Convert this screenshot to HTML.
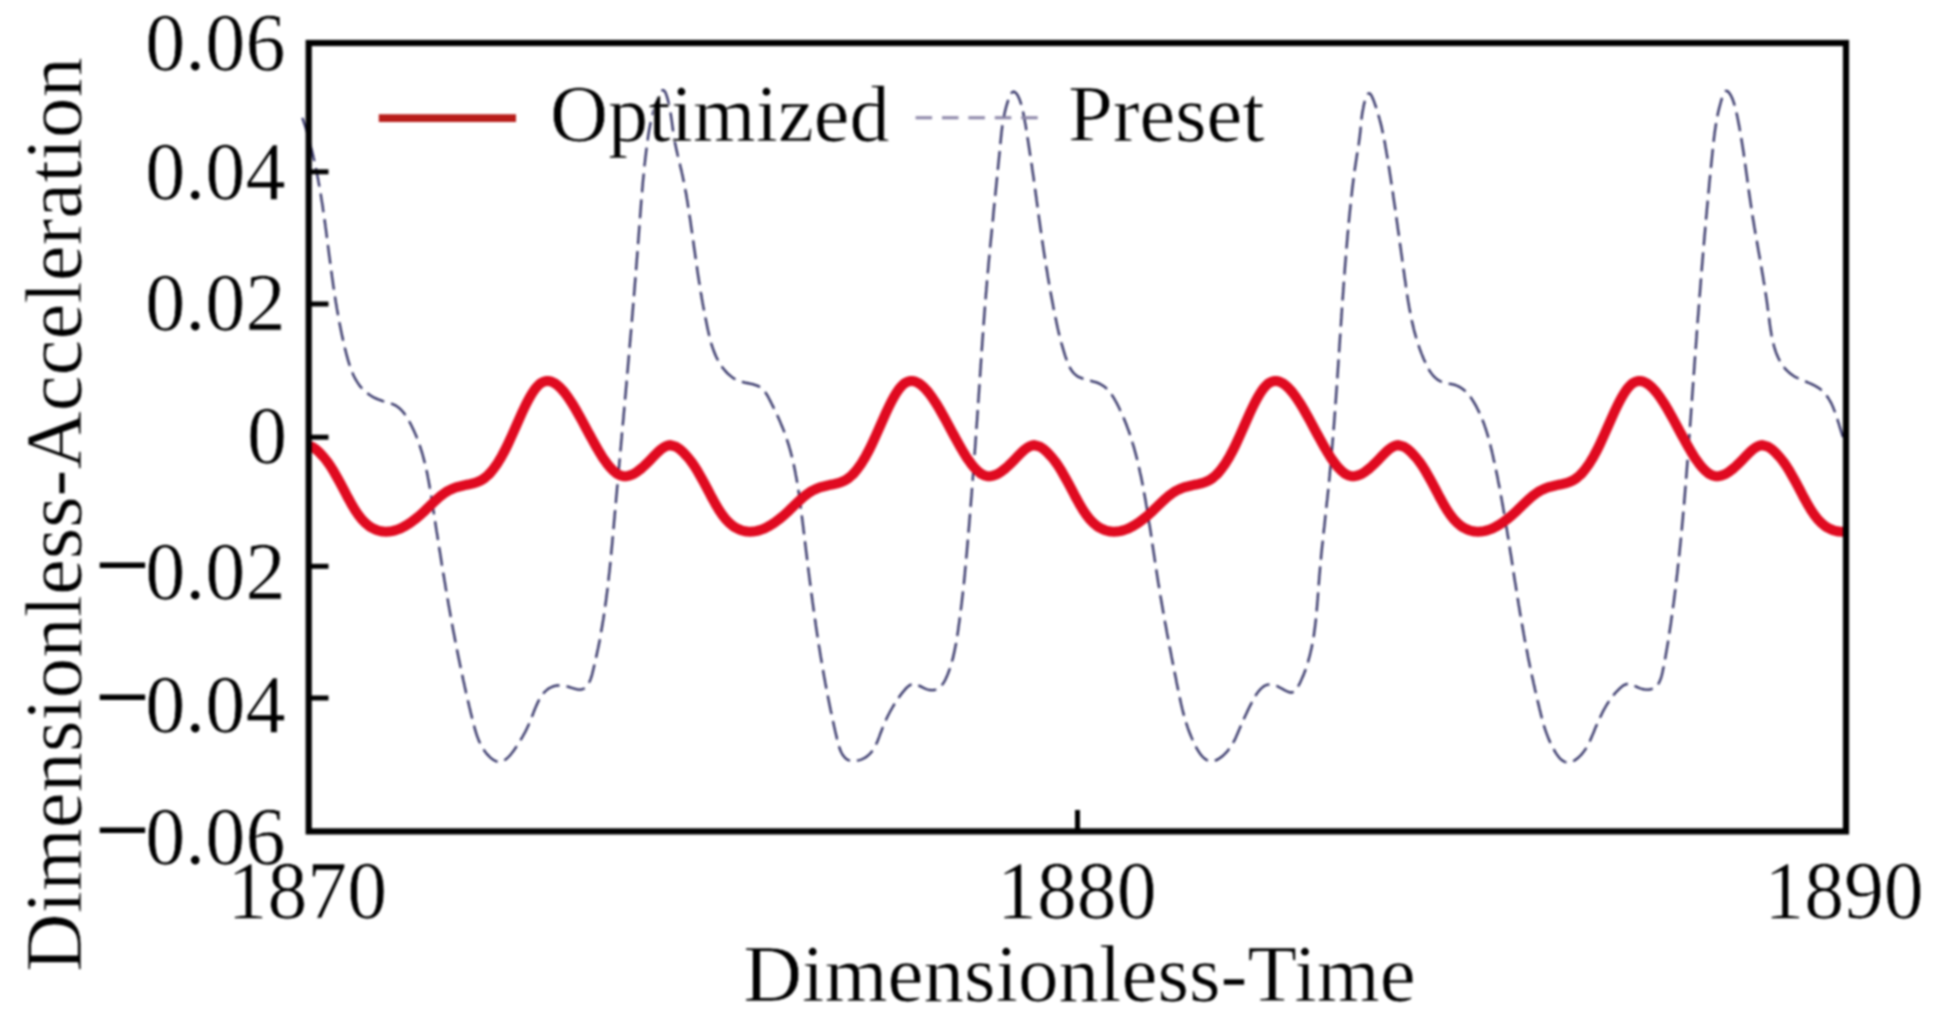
<!DOCTYPE html>
<html lang="en">
<head>
<meta charset="utf-8">
<title>Dimensionless-Acceleration vs Dimensionless-Time</title>
<style>
html,body{margin:0;padding:0;background:#fff;}
body{width:1943px;height:1029px;overflow:hidden;}
svg{display:block;filter:blur(1.0px);}
text{font-family:"Liberation Serif","Times New Roman",serif;fill:#000;stroke:#fff;stroke-width:0.7px;}
</style>
</head>
<body>
<svg width="1943" height="1029" viewBox="0 0 1943 1029">
<rect x="0" y="0" width="1943" height="1029" fill="#ffffff"/>
<!-- preset curve (dashed) -->
<path d="M302.3,117.8 L303.0,119.7 L303.6,121.6 L304.2,123.5 L304.9,125.4 L305.5,127.4 L306.1,129.3 L306.6,131.2 L307.2,133.1 L307.8,135.1 L308.3,137.0 L308.9,138.9 L309.4,140.9 L309.9,142.8 L310.4,144.7 L310.9,146.7 L311.4,148.6 L311.9,150.5 L312.4,152.5 L312.8,154.4 L313.3,156.4 L313.7,158.3 L314.2,160.3 L314.6,162.2 L315.0,164.1 L315.5,166.1 L315.9,168.0 L316.3,170.0 L316.7,171.9 L317.1,173.9 L317.4,175.8 L317.8,177.8 L318.2,179.8 L318.5,181.7 L318.9,183.7 L319.2,185.6 L319.6,187.6 L319.9,189.5 L320.3,191.5 L320.6,193.5 L320.9,195.4 L321.2,197.4 L321.5,199.4 L321.8,201.3 L322.2,203.3 L322.5,205.3 L322.8,207.2 L323.0,209.2 L323.3,211.2 L323.6,213.1 L323.9,215.1 L324.2,217.1 L324.5,219.0 L324.7,221.0 L325.0,223.0 L325.3,224.9 L325.5,226.9 L325.8,228.9 L326.1,230.9 L326.3,232.8 L326.6,234.8 L326.8,236.8 L327.1,238.8 L327.4,240.8 L327.6,242.7 L327.9,244.7 L328.1,246.7 L328.4,248.7 L328.6,250.6 L328.9,252.6 L329.1,254.6 L329.4,256.6 L329.7,258.6 L329.9,260.5 L330.2,262.5 L330.4,264.5 L330.7,266.5 L331.0,268.5 L331.2,270.5 L331.5,272.4 L331.8,274.4 L332.0,276.4 L332.3,278.4 L332.6,280.4 L332.9,282.4 L333.1,284.3 L333.4,286.3 L333.7,288.3 L334.0,290.3 L334.3,292.3 L334.6,294.3 L334.9,296.2 L335.2,298.2 L335.5,300.2 L335.8,302.2 L336.2,304.2 L336.5,306.2 L336.8,308.2 L337.2,310.1 L337.5,312.1 L337.9,314.1 L338.2,316.1 L338.6,318.1 L338.9,320.1 L339.3,322.0 L339.7,324.0 L340.1,326.0 L340.5,328.0 L340.9,330.0 L341.3,332.0 L341.7,333.9 L342.1,335.9 L342.6,337.9 L343.0,339.9 L343.4,341.9 L343.9,343.8 L344.4,345.8 L344.8,347.8 L345.3,349.8 L345.8,351.8 L346.3,353.8 L346.8,355.7 L347.4,357.7 L347.9,359.7 L348.5,361.6 L349.1,363.5 L349.7,365.5 L350.3,367.4 L351.0,369.2 L351.7,371.1 L352.5,372.9 L353.2,374.7 L354.1,376.5 L355.0,378.2 L355.9,379.9 L356.9,381.5 L357.9,383.1 L359.0,384.7 L360.1,386.2 L361.3,387.6 L362.6,389.0 L363.9,390.4 L365.4,391.7 L366.8,392.9 L368.4,394.0 L370.0,395.1 L371.7,396.2 L373.4,397.2 L375.2,398.1 L377.0,398.9 L378.9,399.7 L380.9,400.4 L382.9,401.1 L384.9,401.7 L387.0,402.3 L389.0,402.9 L391.0,403.5 L392.9,404.3 L394.8,405.1 L396.5,406.1 L398.1,407.2 L399.6,408.4 L401.1,409.8 L402.4,411.2 L403.7,412.8 L404.9,414.4 L406.0,416.0 L407.1,417.7 L408.1,419.5 L409.1,421.2 L410.1,423.0 L411.0,424.8 L411.9,426.6 L412.8,428.4 L413.7,430.2 L414.5,432.1 L415.3,433.9 L416.1,435.7 L416.8,437.6 L417.6,439.4 L418.3,441.3 L418.9,443.2 L419.6,445.0 L420.2,446.9 L420.8,448.8 L421.4,450.7 L422.0,452.6 L422.6,454.5 L423.1,456.5 L423.6,458.4 L424.1,460.3 L424.6,462.2 L425.1,464.2 L425.6,466.1 L426.0,468.1 L426.4,470.0 L426.9,472.0 L427.3,473.9 L427.7,475.9 L428.0,477.9 L428.4,479.8 L428.8,481.8 L429.1,483.8 L429.5,485.8 L429.8,487.7 L430.2,489.7 L430.5,491.7 L430.8,493.7 L431.1,495.7 L431.4,497.7 L431.8,499.6 L432.1,501.6 L432.4,503.6 L432.7,505.6 L433.0,507.6 L433.3,509.6 L433.6,511.6 L433.9,513.5 L434.2,515.5 L434.5,517.5 L434.8,519.5 L435.1,521.5 L435.4,523.4 L435.7,525.4 L436.0,527.4 L436.3,529.4 L436.6,531.4 L437.0,533.3 L437.3,535.3 L437.6,537.3 L437.9,539.3 L438.2,541.2 L438.5,543.2 L438.8,545.2 L439.1,547.2 L439.4,549.1 L439.7,551.1 L440.1,553.1 L440.4,555.1 L440.7,557.0 L441.0,559.0 L441.3,561.0 L441.6,562.9 L441.9,564.9 L442.3,566.9 L442.6,568.9 L442.9,570.8 L443.2,572.8 L443.5,574.8 L443.9,576.7 L444.2,578.7 L444.5,580.7 L444.9,582.6 L445.2,584.6 L445.5,586.6 L445.8,588.5 L446.2,590.5 L446.5,592.5 L446.8,594.4 L447.2,596.4 L447.5,598.4 L447.9,600.3 L448.2,602.3 L448.5,604.2 L448.9,606.2 L449.2,608.2 L449.6,610.1 L449.9,612.1 L450.3,614.1 L450.6,616.0 L451.0,618.0 L451.3,619.9 L451.7,621.9 L452.1,623.9 L452.4,625.8 L452.8,627.8 L453.1,629.8 L453.5,631.7 L453.9,633.7 L454.3,635.6 L454.6,637.6 L455.0,639.6 L455.4,641.5 L455.8,643.5 L456.1,645.4 L456.5,647.4 L456.9,649.4 L457.3,651.3 L457.7,653.3 L458.1,655.2 L458.5,657.2 L458.9,659.2 L459.3,661.1 L459.7,663.1 L460.1,665.0 L460.5,667.0 L460.9,669.0 L461.3,670.9 L461.7,672.9 L462.2,674.8 L462.6,676.8 L463.0,678.8 L463.4,680.7 L463.9,682.7 L464.3,684.6 L464.7,686.6 L465.2,688.6 L465.6,690.5 L466.0,692.5 L466.5,694.4 L466.9,696.4 L467.4,698.4 L467.8,700.3 L468.3,702.3 L468.8,704.2 L469.2,706.2 L469.7,708.2 L470.2,710.1 L470.6,712.1 L471.1,714.0 L471.6,716.0 L472.1,718.0 L472.6,719.9 L473.1,721.9 L473.6,723.9 L474.1,725.8 L474.6,727.8 L475.1,729.7 L475.7,731.6 L476.3,733.6 L476.9,735.5 L477.6,737.3 L478.3,739.2 L479.0,741.0 L479.9,742.8 L480.7,744.6 L481.6,746.3 L482.6,748.0 L483.7,749.7 L484.8,751.3 L486.0,752.9 L487.3,754.4 L488.7,755.9 L490.1,757.3 L491.7,758.6 L493.3,759.8 L495.0,760.8 L496.6,761.5 L498.3,761.8 L500.0,761.9 L501.6,761.5 L503.2,760.9 L504.8,760.0 L506.4,758.9 L507.9,757.5 L509.4,756.0 L510.8,754.4 L512.2,752.6 L513.6,750.8 L514.9,748.9 L516.2,747.0 L517.4,745.1 L518.6,743.3 L519.7,741.6 L520.7,739.8 L521.7,738.1 L522.7,736.5 L523.6,734.8 L524.5,733.2 L525.4,731.6 L526.2,729.9 L527.0,728.3 L527.8,726.6 L528.6,724.9 L529.3,723.1 L530.1,721.3 L530.8,719.5 L531.6,717.6 L532.3,715.7 L533.1,713.7 L533.8,711.7 L534.6,709.7 L535.5,707.6 L536.3,705.7 L537.2,703.7 L538.1,701.8 L539.1,699.9 L540.1,698.1 L541.2,696.4 L542.3,694.7 L543.5,693.2 L544.8,691.8 L546.2,690.5 L547.6,689.3 L549.1,688.3 L550.7,687.5 L552.4,686.7 L554.1,686.2 L555.9,685.7 L557.8,685.5 L559.7,685.4 L561.7,685.4 L563.7,685.7 L565.8,686.1 L567.9,686.6 L570.1,687.3 L572.2,688.0 L574.3,688.7 L576.3,689.2 L578.2,689.6 L580.0,689.7 L581.6,689.5 L583.0,689.0 L584.3,688.4 L585.5,687.5 L586.6,686.4 L587.6,685.1 L588.5,683.7 L589.3,682.1 L590.1,680.4 L590.8,678.6 L591.4,676.7 L592.0,674.8 L592.5,672.8 L593.0,670.7 L593.5,668.7 L594.0,666.6 L594.5,664.6 L595.0,662.5 L595.4,660.5 L595.9,658.4 L596.3,656.4 L596.8,654.4 L597.2,652.3 L597.6,650.3 L598.1,648.3 L598.5,646.2 L598.9,644.2 L599.3,642.2 L599.7,640.2 L600.0,638.1 L600.4,636.1 L600.8,634.1 L601.1,632.1 L601.5,630.1 L601.8,628.1 L602.2,626.1 L602.5,624.0 L602.8,622.0 L603.2,620.0 L603.5,618.0 L603.8,616.0 L604.1,614.0 L604.4,612.0 L604.7,610.0 L605.0,608.0 L605.2,606.0 L605.5,604.0 L605.8,602.0 L606.1,600.0 L606.3,598.0 L606.6,596.0 L606.8,594.0 L607.1,592.1 L607.3,590.1 L607.6,588.1 L607.8,586.1 L608.0,584.1 L608.3,582.1 L608.5,580.1 L608.7,578.1 L608.9,576.2 L609.1,574.2 L609.4,572.2 L609.6,570.2 L609.8,568.2 L610.0,566.2 L610.2,564.3 L610.4,562.3 L610.6,560.3 L610.8,558.3 L611.0,556.3 L611.2,554.4 L611.3,552.4 L611.5,550.4 L611.7,548.4 L611.9,546.5 L612.1,544.5 L612.3,542.5 L612.4,540.5 L612.6,538.5 L612.8,536.6 L613.0,534.6 L613.2,532.6 L613.3,530.6 L613.5,528.7 L613.7,526.7 L613.9,524.7 L614.0,522.7 L614.2,520.7 L614.4,518.8 L614.6,516.8 L614.7,514.8 L614.9,512.8 L615.1,510.8 L615.3,508.9 L615.4,506.9 L615.6,504.9 L615.8,502.9 L616.0,500.9 L616.1,499.0 L616.3,497.0 L616.5,495.0 L616.7,493.0 L616.9,491.0 L617.0,489.0 L617.2,487.1 L617.4,485.1 L617.6,483.1 L617.7,481.1 L617.9,479.1 L618.1,477.1 L618.3,475.2 L618.5,473.2 L618.6,471.2 L618.8,469.2 L619.0,467.2 L619.2,465.2 L619.3,463.2 L619.5,461.3 L619.7,459.3 L619.9,457.3 L620.1,455.3 L620.2,453.3 L620.4,451.3 L620.6,449.3 L620.8,447.3 L621.0,445.4 L621.1,443.4 L621.3,441.4 L621.5,439.4 L621.7,437.4 L621.8,435.4 L622.0,433.4 L622.2,431.4 L622.4,429.4 L622.6,427.5 L622.7,425.5 L622.9,423.5 L623.1,421.5 L623.3,419.5 L623.5,417.5 L623.6,415.5 L623.8,413.5 L624.0,411.5 L624.2,409.5 L624.3,407.5 L624.5,405.6 L624.7,403.6 L624.9,401.6 L625.0,399.6 L625.2,397.6 L625.4,395.6 L625.6,393.6 L625.8,391.6 L625.9,389.6 L626.1,387.6 L626.3,385.6 L626.5,383.6 L626.6,381.6 L626.8,379.6 L627.0,377.7 L627.2,375.7 L627.3,373.7 L627.5,371.7 L627.7,369.7 L627.9,367.7 L628.0,365.7 L628.2,363.7 L628.4,361.7 L628.6,359.7 L628.7,357.7 L628.9,355.7 L629.1,353.7 L629.2,351.7 L629.4,349.7 L629.6,347.7 L629.8,345.7 L629.9,343.7 L630.1,341.7 L630.3,339.7 L630.4,337.7 L630.6,335.7 L630.8,333.7 L631.0,331.7 L631.1,329.8 L631.3,327.8 L631.5,325.8 L631.6,323.8 L631.8,321.8 L632.0,319.8 L632.1,317.8 L632.3,315.8 L632.5,313.8 L632.6,311.8 L632.8,309.8 L633.0,307.8 L633.1,305.8 L633.3,303.8 L633.5,301.8 L633.6,299.8 L633.8,297.8 L634.0,295.8 L634.1,293.8 L634.3,291.8 L634.5,289.8 L634.6,287.8 L634.8,285.8 L634.9,283.8 L635.1,281.8 L635.3,279.8 L635.4,277.8 L635.6,275.8 L635.7,273.8 L635.9,271.8 L636.1,269.8 L636.2,267.8 L636.4,265.8 L636.5,263.8 L636.7,261.8 L636.8,259.8 L637.0,257.8 L637.2,255.8 L637.3,253.8 L637.5,251.8 L637.6,249.8 L637.8,247.8 L637.9,245.8 L638.1,243.8 L638.2,241.8 L638.4,239.8 L638.5,237.8 L638.7,235.8 L638.8,233.8 L639.0,231.8 L639.1,229.8 L639.3,227.8 L639.4,225.8 L639.6,223.8 L639.7,221.8 L639.9,219.8 L640.0,217.8 L640.2,215.8 L640.3,213.8 L640.5,211.8 L640.6,209.8 L640.8,207.8 L640.9,205.8 L641.1,203.8 L641.2,201.9 L641.4,199.9 L641.6,197.9 L641.7,195.9 L641.9,193.9 L642.1,191.9 L642.2,189.9 L642.4,188.0 L642.6,186.0 L642.7,184.0 L642.9,182.0 L643.1,180.0 L643.3,178.1 L643.5,176.1 L643.7,174.1 L643.8,172.2 L644.0,170.2 L644.2,168.3 L644.4,166.3 L644.6,164.3 L644.9,162.4 L645.1,160.4 L645.3,158.5 L645.5,156.6 L645.8,154.6 L646.0,152.7 L646.2,150.8 L646.5,148.8 L646.7,146.9 L647.0,145.0 L647.2,143.1 L647.5,141.1 L647.8,139.2 L648.0,137.3 L648.3,135.4 L648.6,133.5 L648.9,131.6 L649.2,129.7 L649.6,127.7 L650.0,125.7 L650.4,123.7 L650.8,121.7 L651.3,119.6 L651.8,117.5 L652.3,115.3 L652.9,113.0 L653.5,110.7 L654.2,108.4 L654.9,105.9 L655.7,103.5 L656.6,101.0 L657.4,98.6 L658.3,96.4 L659.2,94.4 L660.1,92.7 L661.1,91.4 L662.0,90.5 L662.8,90.1 L663.7,90.3 L664.5,91.0 L665.3,92.2 L666.0,93.9 L666.7,95.8 L667.4,98.1 L668.0,100.4 L668.6,102.9 L669.1,105.4 L669.6,107.7 L670.0,110.1 L670.4,112.3 L670.8,114.5 L671.1,116.6 L671.4,118.6 L671.7,120.7 L672.0,122.6 L672.2,124.6 L672.5,126.5 L672.7,128.3 L673.0,130.2 L673.2,132.1 L673.5,133.9 L673.8,135.8 L674.1,137.6 L674.4,139.5 L674.7,141.4 L675.1,143.3 L675.5,145.2 L675.9,147.1 L676.3,149.0 L676.7,150.9 L677.2,152.9 L677.6,154.8 L678.1,156.8 L678.6,158.7 L679.0,160.7 L679.5,162.7 L680.0,164.6 L680.4,166.6 L680.9,168.6 L681.4,170.6 L681.8,172.6 L682.3,174.5 L682.7,176.5 L683.1,178.5 L683.5,180.5 L683.9,182.4 L684.3,184.4 L684.7,186.4 L685.1,188.4 L685.4,190.3 L685.8,192.3 L686.2,194.3 L686.5,196.2 L686.8,198.2 L687.2,200.2 L687.5,202.1 L687.8,204.1 L688.1,206.1 L688.4,208.0 L688.7,210.0 L689.0,212.0 L689.3,213.9 L689.6,215.9 L689.9,217.9 L690.2,219.9 L690.5,221.8 L690.8,223.8 L691.0,225.8 L691.3,227.7 L691.6,229.7 L691.9,231.7 L692.2,233.7 L692.4,235.7 L692.7,237.6 L693.0,239.6 L693.3,241.6 L693.6,243.6 L693.8,245.5 L694.1,247.5 L694.4,249.5 L694.7,251.5 L695.0,253.5 L695.2,255.5 L695.5,257.4 L695.8,259.4 L696.1,261.4 L696.4,263.4 L696.7,265.4 L697.0,267.3 L697.2,269.3 L697.5,271.3 L697.8,273.3 L698.1,275.3 L698.4,277.2 L698.7,279.2 L699.0,281.2 L699.4,283.2 L699.7,285.2 L700.0,287.1 L700.3,289.1 L700.6,291.1 L700.9,293.0 L701.3,295.0 L701.6,297.0 L701.9,299.0 L702.3,300.9 L702.6,302.9 L703.0,304.9 L703.3,306.8 L703.7,308.8 L704.1,310.8 L704.4,312.7 L704.8,314.7 L705.2,316.6 L705.6,318.6 L706.0,320.6 L706.4,322.5 L706.8,324.5 L707.2,326.4 L707.6,328.4 L708.0,330.3 L708.5,332.3 L708.9,334.2 L709.4,336.2 L709.8,338.1 L710.3,340.1 L710.9,342.0 L711.4,343.9 L712.0,345.8 L712.6,347.7 L713.3,349.6 L714.0,351.5 L714.7,353.3 L715.5,355.2 L716.3,357.0 L717.2,358.8 L718.1,360.6 L719.1,362.4 L720.2,364.1 L721.3,365.8 L722.5,367.5 L723.7,369.1 L725.0,370.6 L726.4,372.1 L727.8,373.6 L729.3,374.9 L730.8,376.2 L732.4,377.4 L734.0,378.4 L735.7,379.4 L737.5,380.3 L739.3,381.0 L741.2,381.6 L743.1,382.1 L745.0,382.6 L747.0,383.0 L748.9,383.4 L750.9,383.8 L752.8,384.2 L754.6,384.8 L756.4,385.4 L758.2,386.1 L759.8,387.0 L761.4,388.1 L762.8,389.3 L764.1,390.8 L765.4,392.4 L766.5,394.1 L767.6,395.9 L768.6,397.8 L769.6,399.7 L770.6,401.6 L771.5,403.5 L772.5,405.4 L773.4,407.2 L774.3,409.1 L775.2,410.9 L776.1,412.8 L776.9,414.6 L777.8,416.4 L778.6,418.2 L779.4,420.1 L780.2,421.9 L780.9,423.7 L781.7,425.5 L782.4,427.3 L783.2,429.1 L783.9,430.9 L784.5,432.7 L785.2,434.6 L785.9,436.4 L786.5,438.3 L787.1,440.1 L787.7,442.0 L788.3,443.8 L788.9,445.7 L789.4,447.6 L790.0,449.5 L790.5,451.4 L791.0,453.3 L791.5,455.2 L792.0,457.1 L792.4,459.0 L792.9,461.0 L793.3,462.9 L793.8,464.9 L794.2,466.8 L794.6,468.8 L795.0,470.7 L795.4,472.7 L795.7,474.7 L796.1,476.6 L796.5,478.6 L796.8,480.6 L797.2,482.6 L797.5,484.6 L797.8,486.6 L798.1,488.5 L798.4,490.5 L798.7,492.5 L799.0,494.5 L799.3,496.5 L799.6,498.5 L799.9,500.5 L800.1,502.6 L800.4,504.6 L800.7,506.6 L800.9,508.6 L801.2,510.6 L801.4,512.6 L801.7,514.6 L801.9,516.6 L802.2,518.6 L802.4,520.6 L802.7,522.6 L802.9,524.6 L803.2,526.6 L803.4,528.6 L803.6,530.6 L803.9,532.6 L804.1,534.6 L804.4,536.6 L804.6,538.6 L804.8,540.6 L805.1,542.6 L805.3,544.6 L805.6,546.6 L805.8,548.5 L806.0,550.5 L806.3,552.5 L806.5,554.5 L806.8,556.5 L807.0,558.4 L807.2,560.4 L807.5,562.4 L807.7,564.4 L808.0,566.3 L808.2,568.3 L808.5,570.3 L808.7,572.2 L809.0,574.2 L809.2,576.2 L809.5,578.1 L809.7,580.1 L810.0,582.1 L810.2,584.0 L810.5,586.0 L810.7,588.0 L811.0,589.9 L811.2,591.9 L811.5,593.9 L811.8,595.8 L812.0,597.8 L812.3,599.7 L812.5,601.7 L812.8,603.7 L813.1,605.6 L813.3,607.6 L813.6,609.5 L813.9,611.5 L814.2,613.5 L814.4,615.4 L814.7,617.4 L815.0,619.4 L815.3,621.3 L815.6,623.3 L815.8,625.2 L816.1,627.2 L816.4,629.2 L816.7,631.1 L817.0,633.1 L817.3,635.1 L817.6,637.0 L817.9,639.0 L818.2,640.9 L818.5,642.9 L818.8,644.9 L819.1,646.8 L819.5,648.8 L819.8,650.8 L820.1,652.8 L820.4,654.7 L820.7,656.7 L821.1,658.7 L821.4,660.6 L821.7,662.6 L822.1,664.6 L822.4,666.6 L822.7,668.6 L823.1,670.5 L823.4,672.5 L823.8,674.5 L824.1,676.5 L824.5,678.5 L824.9,680.5 L825.2,682.4 L825.6,684.4 L826.0,686.4 L826.3,688.4 L826.7,690.4 L827.1,692.4 L827.5,694.4 L827.9,696.4 L828.3,698.4 L828.7,700.4 L829.1,702.4 L829.5,704.4 L829.9,706.5 L830.3,708.5 L830.7,710.5 L831.2,712.5 L831.6,714.5 L832.0,716.5 L832.4,718.6 L832.9,720.6 L833.3,722.6 L833.8,724.7 L834.2,726.7 L834.7,728.7 L835.1,730.8 L835.6,732.8 L836.1,734.9 L836.6,736.9 L837.0,738.9 L837.5,741.0 L838.0,743.0 L838.6,745.0 L839.2,746.9 L839.8,748.8 L840.5,750.5 L841.2,752.2 L842.1,753.8 L843.0,755.3 L844.0,756.6 L845.0,757.8 L846.2,758.8 L847.5,759.7 L849.0,760.3 L850.5,760.8 L852.2,761.1 L854.0,761.1 L856.0,760.9 L858.0,760.5 L860.0,760.0 L862.0,759.2 L864.0,758.3 L865.8,757.2 L867.5,756.0 L869.0,754.7 L870.4,753.3 L871.7,751.8 L872.9,750.1 L874.0,748.4 L875.0,746.7 L875.9,744.8 L876.7,743.0 L877.6,741.0 L878.3,739.1 L879.1,737.1 L879.8,735.2 L880.5,733.2 L881.3,731.3 L882.0,729.3 L882.8,727.4 L883.6,725.5 L884.3,723.6 L885.2,721.8 L886.0,719.9 L886.8,718.1 L887.7,716.3 L888.6,714.5 L889.5,712.8 L890.4,711.0 L891.4,709.3 L892.4,707.5 L893.4,705.8 L894.4,704.1 L895.5,702.4 L896.6,700.8 L897.7,699.1 L898.8,697.5 L900.0,695.8 L901.2,694.2 L902.5,692.6 L903.8,691.0 L905.1,689.4 L906.5,687.9 L907.9,686.6 L909.5,685.4 L911.1,684.6 L912.9,684.2 L914.8,684.2 L916.8,684.7 L918.9,685.6 L921.1,686.6 L923.3,687.7 L925.4,688.7 L927.4,689.5 L929.4,690.0 L931.2,690.2 L932.9,690.2 L934.5,690.0 L936.0,689.5 L937.4,688.9 L938.8,688.0 L940.0,687.0 L941.2,685.8 L942.3,684.5 L943.4,683.1 L944.3,681.5 L945.3,679.8 L946.1,678.1 L946.9,676.3 L947.7,674.4 L948.4,672.5 L949.1,670.6 L949.8,668.6 L950.4,666.7 L951.0,664.7 L951.6,662.8 L952.1,660.8 L952.7,658.9 L953.2,656.9 L953.6,654.9 L954.1,652.9 L954.5,651.0 L954.9,649.0 L955.3,647.0 L955.7,645.0 L956.1,643.0 L956.4,641.0 L956.7,639.1 L957.1,637.1 L957.4,635.1 L957.7,633.1 L958.0,631.1 L958.3,629.1 L958.5,627.1 L958.8,625.1 L959.1,623.1 L959.4,621.1 L959.6,619.1 L959.9,617.1 L960.2,615.2 L960.4,613.2 L960.7,611.2 L960.9,609.2 L961.2,607.2 L961.4,605.2 L961.7,603.2 L961.9,601.2 L962.1,599.3 L962.3,597.3 L962.6,595.3 L962.8,593.3 L963.0,591.3 L963.2,589.3 L963.4,587.3 L963.6,585.4 L963.9,583.4 L964.1,581.4 L964.3,579.4 L964.5,577.4 L964.7,575.4 L964.9,573.4 L965.0,571.5 L965.2,569.5 L965.4,567.5 L965.6,565.5 L965.8,563.5 L966.0,561.5 L966.2,559.5 L966.3,557.6 L966.5,555.6 L966.7,553.6 L966.9,551.6 L967.0,549.6 L967.2,547.6 L967.4,545.6 L967.6,543.7 L967.7,541.7 L967.9,539.7 L968.1,537.7 L968.2,535.7 L968.4,533.7 L968.6,531.7 L968.7,529.7 L968.9,527.7 L969.1,525.8 L969.2,523.8 L969.4,521.8 L969.5,519.8 L969.7,517.8 L969.9,515.8 L970.0,513.8 L970.2,511.8 L970.4,509.8 L970.5,507.8 L970.7,505.8 L970.8,503.8 L971.0,501.8 L971.1,499.9 L971.3,497.9 L971.5,495.9 L971.6,493.9 L971.8,491.9 L971.9,489.9 L972.1,487.9 L972.2,485.9 L972.4,483.9 L972.5,481.9 L972.7,479.9 L972.8,477.9 L973.0,475.9 L973.1,473.9 L973.3,471.9 L973.4,469.9 L973.6,467.9 L973.7,465.9 L973.9,463.9 L974.0,461.9 L974.2,459.9 L974.3,457.9 L974.5,455.9 L974.6,453.9 L974.8,451.9 L974.9,449.9 L975.1,447.9 L975.2,445.9 L975.4,444.0 L975.5,442.0 L975.6,440.0 L975.8,438.0 L975.9,436.0 L976.1,434.0 L976.2,432.0 L976.4,430.0 L976.5,428.0 L976.6,426.0 L976.8,424.0 L976.9,422.0 L977.1,420.0 L977.2,418.0 L977.3,416.0 L977.5,414.0 L977.6,412.0 L977.7,410.0 L977.9,408.0 L978.0,406.0 L978.1,404.0 L978.3,402.0 L978.4,400.0 L978.6,398.0 L978.7,396.0 L978.8,394.0 L979.0,392.1 L979.1,390.1 L979.2,388.1 L979.4,386.1 L979.5,384.1 L979.6,382.1 L979.8,380.1 L979.9,378.1 L980.0,376.1 L980.2,374.1 L980.3,372.1 L980.4,370.1 L980.6,368.1 L980.7,366.1 L980.8,364.1 L981.0,362.2 L981.1,360.2 L981.2,358.2 L981.4,356.2 L981.5,354.2 L981.7,352.2 L981.8,350.2 L981.9,348.2 L982.1,346.2 L982.2,344.2 L982.3,342.2 L982.5,340.2 L982.6,338.2 L982.8,336.3 L982.9,334.3 L983.1,332.3 L983.2,330.3 L983.3,328.3 L983.5,326.3 L983.6,324.3 L983.8,322.3 L983.9,320.3 L984.1,318.3 L984.2,316.3 L984.4,314.3 L984.5,312.3 L984.7,310.3 L984.8,308.4 L985.0,306.4 L985.1,304.4 L985.3,302.4 L985.5,300.4 L985.6,298.4 L985.8,296.4 L985.9,294.4 L986.1,292.4 L986.3,290.4 L986.4,288.4 L986.6,286.4 L986.8,284.4 L986.9,282.4 L987.1,280.4 L987.3,278.4 L987.5,276.5 L987.6,274.5 L987.8,272.5 L988.0,270.5 L988.2,268.5 L988.4,266.5 L988.5,264.5 L988.7,262.5 L988.9,260.5 L989.1,258.5 L989.3,256.5 L989.5,254.5 L989.6,252.5 L989.8,250.5 L990.0,248.5 L990.2,246.5 L990.4,244.5 L990.6,242.5 L990.8,240.5 L991.0,238.6 L991.2,236.6 L991.4,234.6 L991.6,232.6 L991.8,230.6 L992.0,228.6 L992.2,226.6 L992.4,224.6 L992.6,222.6 L992.8,220.6 L993.0,218.6 L993.2,216.6 L993.3,214.6 L993.5,212.6 L993.7,210.7 L993.9,208.7 L994.1,206.7 L994.3,204.7 L994.5,202.7 L994.7,200.7 L994.9,198.7 L995.1,196.7 L995.3,194.8 L995.5,192.8 L995.7,190.8 L995.9,188.8 L996.1,186.8 L996.3,184.8 L996.5,182.8 L996.7,180.9 L996.9,178.9 L997.1,176.9 L997.3,174.9 L997.5,172.9 L997.7,170.9 L997.9,169.0 L998.1,167.0 L998.3,165.0 L998.5,163.0 L998.7,161.1 L998.9,159.1 L999.1,157.1 L999.3,155.1 L999.5,153.2 L999.7,151.2 L999.8,149.2 L1000.0,147.2 L1000.2,145.3 L1000.4,143.3 L1000.6,141.3 L1000.8,139.4 L1001.0,137.4 L1001.2,135.4 L1001.4,133.4 L1001.6,131.4 L1001.9,129.5 L1002.1,127.5 L1002.4,125.4 L1002.7,123.4 L1003.0,121.4 L1003.4,119.3 L1003.8,117.3 L1004.2,115.2 L1004.6,113.1 L1005.1,111.0 L1005.6,108.9 L1006.2,106.8 L1006.8,104.6 L1007.5,102.4 L1008.2,100.2 L1008.9,98.1 L1009.8,96.1 L1010.6,94.3 L1011.5,92.9 L1012.5,92.0 L1013.5,91.7 L1014.6,91.9 L1015.7,92.8 L1016.8,94.1 L1017.9,95.7 L1018.8,97.7 L1019.7,99.8 L1020.5,102.1 L1021.2,104.5 L1021.9,106.9 L1022.5,109.3 L1023.0,111.7 L1023.5,114.0 L1023.9,116.2 L1024.3,118.3 L1024.7,120.3 L1025.0,122.2 L1025.4,124.0 L1025.7,125.9 L1026.0,127.7 L1026.2,129.4 L1026.5,131.2 L1026.8,133.0 L1027.1,134.9 L1027.4,136.8 L1027.7,138.7 L1028.0,140.6 L1028.3,142.5 L1028.6,144.5 L1028.9,146.5 L1029.2,148.5 L1029.5,150.5 L1029.8,152.5 L1030.1,154.5 L1030.4,156.6 L1030.8,158.6 L1031.1,160.6 L1031.4,162.6 L1031.7,164.7 L1032.0,166.7 L1032.2,168.7 L1032.5,170.7 L1032.8,172.7 L1033.1,174.7 L1033.4,176.7 L1033.7,178.7 L1033.9,180.6 L1034.2,182.6 L1034.5,184.6 L1034.8,186.6 L1035.0,188.6 L1035.3,190.5 L1035.6,192.5 L1035.8,194.5 L1036.1,196.4 L1036.4,198.4 L1036.6,200.4 L1036.9,202.3 L1037.2,204.3 L1037.4,206.3 L1037.7,208.2 L1038.0,210.2 L1038.2,212.2 L1038.5,214.2 L1038.8,216.1 L1039.0,218.1 L1039.3,220.1 L1039.6,222.0 L1039.9,224.0 L1040.1,226.0 L1040.4,228.0 L1040.7,229.9 L1041.0,231.9 L1041.3,233.9 L1041.6,235.9 L1041.8,237.9 L1042.1,239.9 L1042.4,241.8 L1042.7,243.8 L1043.0,245.8 L1043.3,247.8 L1043.6,249.8 L1043.9,251.8 L1044.2,253.8 L1044.5,255.7 L1044.8,257.7 L1045.1,259.7 L1045.5,261.7 L1045.8,263.7 L1046.1,265.7 L1046.4,267.6 L1046.7,269.6 L1047.1,271.6 L1047.4,273.6 L1047.7,275.6 L1048.0,277.5 L1048.4,279.5 L1048.7,281.5 L1049.1,283.5 L1049.4,285.4 L1049.7,287.4 L1050.1,289.4 L1050.4,291.3 L1050.8,293.3 L1051.1,295.3 L1051.5,297.2 L1051.9,299.2 L1052.2,301.1 L1052.6,303.1 L1053.0,305.0 L1053.3,307.0 L1053.7,308.9 L1054.1,310.9 L1054.5,312.8 L1054.9,314.7 L1055.3,316.7 L1055.7,318.6 L1056.1,320.5 L1056.5,322.5 L1056.9,324.4 L1057.3,326.3 L1057.7,328.3 L1058.2,330.2 L1058.6,332.1 L1059.1,334.1 L1059.6,336.0 L1060.1,337.9 L1060.6,339.9 L1061.1,341.8 L1061.6,343.8 L1062.2,345.7 L1062.7,347.7 L1063.3,349.6 L1063.9,351.6 L1064.5,353.6 L1065.1,355.6 L1065.8,357.5 L1066.4,359.5 L1067.2,361.5 L1067.9,363.4 L1068.7,365.3 L1069.6,367.1 L1070.6,368.8 L1071.6,370.5 L1072.8,372.0 L1074.0,373.5 L1075.4,374.7 L1076.9,375.9 L1078.6,376.9 L1080.4,377.7 L1082.3,378.4 L1084.2,379.1 L1086.2,379.7 L1088.3,380.2 L1090.3,380.7 L1092.4,381.3 L1094.4,381.8 L1096.4,382.4 L1098.3,383.1 L1100.1,384.0 L1101.8,384.9 L1103.4,385.9 L1105.0,387.1 L1106.4,388.4 L1107.7,389.7 L1109.0,391.1 L1110.2,392.6 L1111.4,394.2 L1112.5,395.8 L1113.5,397.5 L1114.5,399.2 L1115.5,401.0 L1116.5,402.7 L1117.4,404.5 L1118.3,406.3 L1119.2,408.1 L1120.0,409.9 L1120.9,411.7 L1121.7,413.5 L1122.5,415.3 L1123.3,417.1 L1124.1,419.0 L1124.8,420.8 L1125.6,422.7 L1126.3,424.5 L1127.0,426.4 L1127.7,428.3 L1128.4,430.2 L1129.1,432.0 L1129.7,433.9 L1130.3,435.8 L1131.0,437.7 L1131.6,439.7 L1132.2,441.6 L1132.7,443.5 L1133.3,445.4 L1133.9,447.3 L1134.4,449.3 L1134.9,451.2 L1135.5,453.1 L1136.0,455.1 L1136.5,457.0 L1137.0,459.0 L1137.4,460.9 L1137.9,462.9 L1138.4,464.9 L1138.8,466.8 L1139.3,468.8 L1139.7,470.7 L1140.1,472.7 L1140.6,474.7 L1141.0,476.6 L1141.4,478.6 L1141.8,480.6 L1142.2,482.5 L1142.6,484.5 L1142.9,486.5 L1143.3,488.4 L1143.7,490.4 L1144.0,492.4 L1144.4,494.3 L1144.8,496.3 L1145.1,498.3 L1145.5,500.2 L1145.8,502.2 L1146.1,504.2 L1146.5,506.1 L1146.8,508.1 L1147.1,510.1 L1147.5,512.0 L1147.8,514.0 L1148.1,516.0 L1148.4,517.9 L1148.7,519.9 L1149.0,521.9 L1149.3,523.8 L1149.7,525.8 L1150.0,527.8 L1150.3,529.7 L1150.6,531.7 L1150.9,533.7 L1151.2,535.6 L1151.5,537.6 L1151.7,539.6 L1152.0,541.5 L1152.3,543.5 L1152.6,545.5 L1152.9,547.5 L1153.2,549.4 L1153.5,551.4 L1153.8,553.4 L1154.1,555.3 L1154.4,557.3 L1154.7,559.3 L1155.0,561.3 L1155.3,563.2 L1155.6,565.2 L1155.9,567.2 L1156.2,569.1 L1156.5,571.1 L1156.8,573.1 L1157.1,575.1 L1157.4,577.1 L1157.7,579.0 L1158.0,581.0 L1158.3,583.0 L1158.7,585.0 L1159.0,587.0 L1159.3,588.9 L1159.6,590.9 L1160.0,592.9 L1160.3,594.9 L1160.6,596.9 L1161.0,598.9 L1161.3,600.8 L1161.6,602.8 L1162.0,604.8 L1162.3,606.8 L1162.7,608.8 L1163.0,610.8 L1163.4,612.7 L1163.7,614.7 L1164.1,616.7 L1164.4,618.7 L1164.8,620.7 L1165.1,622.7 L1165.5,624.6 L1165.9,626.6 L1166.2,628.6 L1166.6,630.6 L1166.9,632.5 L1167.3,634.5 L1167.7,636.5 L1168.1,638.5 L1168.4,640.4 L1168.8,642.4 L1169.2,644.4 L1169.5,646.4 L1169.9,648.3 L1170.3,650.3 L1170.7,652.3 L1171.1,654.2 L1171.4,656.2 L1171.8,658.1 L1172.2,660.1 L1172.6,662.0 L1173.0,664.0 L1173.3,665.9 L1173.7,667.9 L1174.1,669.8 L1174.5,671.8 L1174.9,673.7 L1175.3,675.7 L1175.7,677.6 L1176.1,679.5 L1176.4,681.5 L1176.8,683.4 L1177.2,685.3 L1177.6,687.3 L1178.0,689.2 L1178.4,691.1 L1178.8,693.0 L1179.2,694.9 L1179.6,696.8 L1180.0,698.8 L1180.4,700.7 L1180.8,702.6 L1181.2,704.5 L1181.7,706.4 L1182.1,708.3 L1182.6,710.2 L1183.1,712.1 L1183.6,714.1 L1184.1,716.0 L1184.7,717.9 L1185.2,719.8 L1185.8,721.8 L1186.4,723.7 L1187.1,725.7 L1187.7,727.6 L1188.4,729.6 L1189.1,731.5 L1189.9,733.5 L1190.7,735.5 L1191.5,737.4 L1192.4,739.4 L1193.3,741.4 L1194.2,743.4 L1195.2,745.4 L1196.2,747.4 L1197.3,749.3 L1198.4,751.1 L1199.5,752.9 L1200.7,754.5 L1201.9,756.0 L1203.2,757.3 L1204.5,758.5 L1205.9,759.5 L1207.3,760.3 L1208.7,760.8 L1210.2,761.2 L1211.8,761.2 L1213.4,761.0 L1215.0,760.6 L1216.7,759.9 L1218.3,759.1 L1219.9,758.0 L1221.6,756.8 L1223.2,755.5 L1224.7,754.0 L1226.3,752.4 L1227.7,750.8 L1229.1,749.0 L1230.4,747.2 L1231.6,745.4 L1232.7,743.6 L1233.7,741.7 L1234.7,739.9 L1235.6,738.0 L1236.4,736.1 L1237.2,734.3 L1238.0,732.5 L1238.7,730.7 L1239.5,728.9 L1240.2,727.2 L1241.0,725.5 L1241.7,723.8 L1242.5,722.1 L1243.2,720.3 L1244.0,718.6 L1244.8,716.9 L1245.5,715.2 L1246.4,713.4 L1247.2,711.7 L1248.1,709.8 L1249.0,708.0 L1249.9,706.1 L1250.9,704.2 L1251.9,702.2 L1252.9,700.2 L1254.0,698.2 L1255.2,696.3 L1256.3,694.4 L1257.6,692.6 L1258.9,690.9 L1260.2,689.4 L1261.7,688.0 L1263.1,686.8 L1264.7,685.8 L1266.3,685.0 L1268.0,684.6 L1269.8,684.4 L1271.6,684.5 L1273.5,684.9 L1275.5,685.5 L1277.5,686.3 L1279.6,687.4 L1281.7,688.5 L1283.8,689.7 L1285.8,690.8 L1287.8,691.7 L1289.7,692.3 L1291.4,692.5 L1292.9,692.2 L1294.3,691.5 L1295.5,690.4 L1296.6,689.0 L1297.6,687.4 L1298.5,685.7 L1299.4,684.0 L1300.3,682.2 L1301.1,680.4 L1301.9,678.6 L1302.7,676.8 L1303.5,675.0 L1304.2,673.1 L1304.9,671.3 L1305.6,669.5 L1306.2,667.6 L1306.8,665.8 L1307.4,663.9 L1308.0,662.0 L1308.5,660.1 L1309.0,658.2 L1309.6,656.3 L1310.0,654.4 L1310.5,652.5 L1310.9,650.6 L1311.4,648.6 L1311.8,646.7 L1312.2,644.8 L1312.5,642.8 L1312.9,640.9 L1313.2,638.9 L1313.6,636.9 L1313.9,635.0 L1314.2,633.0 L1314.4,631.0 L1314.7,629.0 L1315.0,627.0 L1315.2,625.1 L1315.4,623.1 L1315.7,621.1 L1315.9,619.1 L1316.1,617.1 L1316.3,615.1 L1316.5,613.0 L1316.7,611.0 L1316.8,609.0 L1317.0,607.0 L1317.2,605.0 L1317.3,603.0 L1317.5,601.0 L1317.7,598.9 L1317.8,596.9 L1318.0,594.9 L1318.1,592.9 L1318.3,590.9 L1318.4,588.8 L1318.6,586.8 L1318.7,584.8 L1318.9,582.8 L1319.0,580.8 L1319.2,578.8 L1319.3,576.7 L1319.5,574.7 L1319.7,572.7 L1319.9,570.7 L1320.0,568.7 L1320.2,566.7 L1320.4,564.7 L1320.6,562.7 L1320.8,560.7 L1321.0,558.7 L1321.1,556.7 L1321.3,554.7 L1321.5,552.7 L1321.7,550.7 L1321.9,548.7 L1322.1,546.8 L1322.3,544.8 L1322.6,542.8 L1322.8,540.8 L1323.0,538.8 L1323.2,536.8 L1323.4,534.8 L1323.6,532.8 L1323.8,530.9 L1324.0,528.9 L1324.3,526.9 L1324.5,524.9 L1324.7,522.9 L1324.9,521.0 L1325.1,519.0 L1325.3,517.0 L1325.5,515.0 L1325.8,513.0 L1326.0,511.1 L1326.2,509.1 L1326.4,507.1 L1326.6,505.1 L1326.8,503.1 L1327.0,501.2 L1327.3,499.2 L1327.5,497.2 L1327.7,495.2 L1327.9,493.2 L1328.1,491.3 L1328.3,489.3 L1328.5,487.3 L1328.7,485.3 L1328.9,483.3 L1329.1,481.3 L1329.3,479.4 L1329.5,477.4 L1329.7,475.4 L1329.8,473.4 L1330.0,471.4 L1330.2,469.4 L1330.4,467.4 L1330.6,465.5 L1330.8,463.5 L1330.9,461.5 L1331.1,459.5 L1331.3,457.5 L1331.5,455.5 L1331.6,453.5 L1331.8,451.6 L1332.0,449.6 L1332.1,447.6 L1332.3,445.6 L1332.5,443.6 L1332.6,441.6 L1332.8,439.6 L1333.0,437.6 L1333.1,435.6 L1333.3,433.6 L1333.4,431.6 L1333.6,429.7 L1333.8,427.7 L1333.9,425.7 L1334.1,423.7 L1334.2,421.7 L1334.4,419.7 L1334.5,417.7 L1334.7,415.7 L1334.8,413.7 L1335.0,411.7 L1335.1,409.7 L1335.2,407.7 L1335.4,405.7 L1335.5,403.7 L1335.7,401.7 L1335.8,399.7 L1336.0,397.8 L1336.1,395.8 L1336.2,393.8 L1336.4,391.8 L1336.5,389.8 L1336.7,387.8 L1336.8,385.8 L1336.9,383.8 L1337.1,381.8 L1337.2,379.8 L1337.4,377.8 L1337.5,375.8 L1337.6,373.8 L1337.8,371.8 L1337.9,369.8 L1338.0,367.8 L1338.2,365.8 L1338.3,363.8 L1338.4,361.8 L1338.6,359.8 L1338.7,357.8 L1338.8,355.8 L1339.0,353.8 L1339.1,351.8 L1339.2,349.8 L1339.4,347.8 L1339.5,345.8 L1339.6,343.8 L1339.8,341.8 L1339.9,339.8 L1340.0,337.8 L1340.2,335.8 L1340.3,333.8 L1340.4,331.8 L1340.6,329.8 L1340.7,327.9 L1340.8,325.9 L1341.0,323.9 L1341.1,321.9 L1341.2,319.9 L1341.4,317.9 L1341.5,315.9 L1341.6,313.9 L1341.8,311.9 L1341.9,309.9 L1342.0,307.9 L1342.2,305.9 L1342.3,303.9 L1342.5,301.9 L1342.6,299.9 L1342.7,297.9 L1342.9,295.9 L1343.0,293.9 L1343.2,291.9 L1343.3,289.9 L1343.4,287.9 L1343.6,285.9 L1343.7,283.9 L1343.9,281.9 L1344.0,279.9 L1344.2,277.9 L1344.3,275.9 L1344.5,273.9 L1344.6,272.0 L1344.8,270.0 L1344.9,268.0 L1345.1,266.0 L1345.2,264.0 L1345.4,262.0 L1345.6,260.0 L1345.7,258.0 L1345.9,256.0 L1346.0,254.0 L1346.2,252.0 L1346.4,250.0 L1346.5,248.0 L1346.7,246.1 L1346.9,244.1 L1347.0,242.1 L1347.2,240.1 L1347.4,238.1 L1347.5,236.1 L1347.7,234.1 L1347.9,232.1 L1348.1,230.1 L1348.2,228.1 L1348.4,226.2 L1348.6,224.2 L1348.8,222.2 L1349.0,220.2 L1349.2,218.2 L1349.4,216.2 L1349.6,214.2 L1349.8,212.2 L1350.0,210.3 L1350.2,208.3 L1350.4,206.3 L1350.6,204.3 L1350.8,202.3 L1351.0,200.3 L1351.2,198.4 L1351.4,196.4 L1351.7,194.4 L1351.9,192.4 L1352.1,190.4 L1352.3,188.4 L1352.6,186.5 L1352.8,184.5 L1353.1,182.5 L1353.3,180.5 L1353.6,178.5 L1353.8,176.6 L1354.1,174.6 L1354.4,172.6 L1354.6,170.6 L1354.9,168.6 L1355.2,166.6 L1355.5,164.7 L1355.8,162.7 L1356.1,160.7 L1356.4,158.7 L1356.7,156.7 L1357.0,154.8 L1357.3,152.8 L1357.6,150.8 L1357.9,148.8 L1358.2,146.9 L1358.6,144.9 L1358.9,142.9 L1359.1,141.0 L1359.4,139.0 L1359.7,137.1 L1359.9,135.1 L1360.1,133.2 L1360.4,131.3 L1360.5,129.3 L1360.7,127.4 L1360.9,125.5 L1361.1,123.5 L1361.3,121.5 L1361.5,119.4 L1361.7,117.4 L1362.0,115.2 L1362.3,113.0 L1362.7,110.7 L1363.2,108.4 L1363.6,106.0 L1364.2,103.5 L1364.8,101.1 L1365.5,98.8 L1366.2,96.8 L1367.0,95.2 L1367.8,94.0 L1368.6,93.3 L1369.4,93.3 L1370.3,93.9 L1371.1,95.0 L1372.0,96.6 L1372.8,98.5 L1373.7,100.6 L1374.5,102.8 L1375.2,105.0 L1376.0,107.2 L1376.7,109.3 L1377.3,111.5 L1378.0,113.6 L1378.6,115.7 L1379.2,117.8 L1379.7,119.8 L1380.3,121.9 L1380.8,123.9 L1381.3,125.9 L1381.8,127.9 L1382.2,129.9 L1382.6,131.9 L1383.1,133.9 L1383.5,135.8 L1383.9,137.8 L1384.2,139.7 L1384.6,141.7 L1385.0,143.6 L1385.3,145.6 L1385.6,147.5 L1386.0,149.4 L1386.3,151.4 L1386.6,153.3 L1387.0,155.2 L1387.3,157.2 L1387.6,159.1 L1387.9,161.1 L1388.2,163.0 L1388.5,165.0 L1388.9,166.9 L1389.2,168.9 L1389.5,170.8 L1389.8,172.8 L1390.1,174.7 L1390.4,176.7 L1390.7,178.6 L1391.0,180.6 L1391.3,182.6 L1391.6,184.5 L1391.9,186.5 L1392.2,188.5 L1392.5,190.4 L1392.8,192.4 L1393.1,194.4 L1393.3,196.4 L1393.6,198.3 L1393.9,200.3 L1394.2,202.3 L1394.5,204.3 L1394.8,206.2 L1395.1,208.2 L1395.3,210.2 L1395.6,212.2 L1395.9,214.2 L1396.2,216.2 L1396.5,218.1 L1396.7,220.1 L1397.0,222.1 L1397.3,224.1 L1397.6,226.1 L1397.8,228.1 L1398.1,230.1 L1398.4,232.0 L1398.7,234.0 L1398.9,236.0 L1399.2,238.0 L1399.5,240.0 L1399.8,242.0 L1400.0,244.0 L1400.3,246.0 L1400.6,248.0 L1400.9,249.9 L1401.1,251.9 L1401.4,253.9 L1401.7,255.9 L1402.0,257.9 L1402.2,259.9 L1402.5,261.9 L1402.8,263.9 L1403.1,265.9 L1403.3,267.8 L1403.6,269.8 L1403.9,271.8 L1404.2,273.8 L1404.4,275.8 L1404.7,277.8 L1405.0,279.7 L1405.3,281.7 L1405.6,283.7 L1405.8,285.7 L1406.1,287.7 L1406.4,289.6 L1406.7,291.6 L1407.0,293.6 L1407.3,295.6 L1407.6,297.5 L1407.9,299.5 L1408.2,301.5 L1408.6,303.5 L1408.9,305.4 L1409.2,307.4 L1409.6,309.3 L1410.0,311.3 L1410.3,313.3 L1410.7,315.2 L1411.1,317.2 L1411.5,319.1 L1411.9,321.1 L1412.4,323.0 L1412.8,324.9 L1413.3,326.9 L1413.7,328.8 L1414.2,330.7 L1414.7,332.7 L1415.3,334.6 L1415.8,336.5 L1416.4,338.4 L1416.9,340.3 L1417.5,342.2 L1418.1,344.1 L1418.8,346.0 L1419.4,347.9 L1420.1,349.8 L1420.8,351.7 L1421.5,353.6 L1422.3,355.4 L1423.0,357.3 L1423.8,359.2 L1424.7,361.0 L1425.5,362.9 L1426.4,364.7 L1427.3,366.5 L1428.2,368.3 L1429.2,370.1 L1430.3,371.8 L1431.4,373.4 L1432.6,374.9 L1433.9,376.4 L1435.2,377.7 L1436.7,379.0 L1438.2,380.1 L1439.8,381.0 L1441.6,381.8 L1443.5,382.5 L1445.5,383.0 L1447.5,383.4 L1449.6,383.8 L1451.7,384.2 L1453.8,384.6 L1455.7,385.2 L1457.6,386.0 L1459.4,386.9 L1461.0,387.8 L1462.6,389.0 L1464.2,390.2 L1465.6,391.5 L1467.0,392.9 L1468.3,394.4 L1469.6,395.9 L1470.8,397.5 L1471.9,399.2 L1473.0,400.9 L1474.1,402.6 L1475.1,404.4 L1476.1,406.1 L1477.0,407.9 L1477.9,409.7 L1478.8,411.5 L1479.6,413.3 L1480.5,415.2 L1481.3,417.0 L1482.0,418.9 L1482.8,420.7 L1483.5,422.6 L1484.2,424.4 L1484.8,426.3 L1485.5,428.2 L1486.1,430.1 L1486.7,432.0 L1487.3,433.9 L1487.9,435.9 L1488.4,437.8 L1488.9,439.7 L1489.5,441.6 L1490.0,443.6 L1490.5,445.5 L1490.9,447.5 L1491.4,449.4 L1491.9,451.4 L1492.3,453.3 L1492.8,455.3 L1493.2,457.2 L1493.6,459.2 L1494.1,461.1 L1494.5,463.1 L1494.9,465.0 L1495.3,467.0 L1495.8,469.0 L1496.2,470.9 L1496.6,472.9 L1497.0,474.8 L1497.4,476.8 L1497.8,478.7 L1498.1,480.7 L1498.5,482.7 L1498.9,484.6 L1499.3,486.6 L1499.7,488.6 L1500.0,490.5 L1500.4,492.5 L1500.8,494.5 L1501.1,496.4 L1501.5,498.4 L1501.8,500.3 L1502.2,502.3 L1502.5,504.3 L1502.9,506.2 L1503.2,508.2 L1503.6,510.2 L1503.9,512.2 L1504.3,514.1 L1504.6,516.1 L1504.9,518.1 L1505.3,520.0 L1505.6,522.0 L1505.9,524.0 L1506.2,525.9 L1506.6,527.9 L1506.9,529.9 L1507.2,531.9 L1507.5,533.8 L1507.8,535.8 L1508.2,537.8 L1508.5,539.7 L1508.8,541.7 L1509.1,543.7 L1509.4,545.7 L1509.7,547.6 L1510.0,549.6 L1510.3,551.6 L1510.6,553.6 L1511.0,555.5 L1511.3,557.5 L1511.6,559.5 L1511.9,561.5 L1512.2,563.4 L1512.5,565.4 L1512.8,567.4 L1513.1,569.4 L1513.4,571.3 L1513.7,573.3 L1514.0,575.3 L1514.3,577.3 L1514.6,579.2 L1514.9,581.2 L1515.3,583.2 L1515.6,585.2 L1515.9,587.1 L1516.2,589.1 L1516.5,591.1 L1516.8,593.1 L1517.1,595.0 L1517.4,597.0 L1517.8,599.0 L1518.1,601.0 L1518.4,602.9 L1518.7,604.9 L1519.1,606.9 L1519.4,608.9 L1519.7,610.8 L1520.0,612.8 L1520.4,614.8 L1520.7,616.8 L1521.0,618.7 L1521.4,620.7 L1521.7,622.7 L1522.1,624.7 L1522.4,626.6 L1522.8,628.6 L1523.1,630.6 L1523.5,632.6 L1523.8,634.5 L1524.2,636.5 L1524.5,638.5 L1524.9,640.5 L1525.3,642.4 L1525.6,644.4 L1526.0,646.4 L1526.4,648.3 L1526.8,650.3 L1527.2,652.3 L1527.6,654.3 L1527.9,656.2 L1528.3,658.2 L1528.7,660.2 L1529.1,662.1 L1529.5,664.1 L1529.9,666.1 L1530.4,668.0 L1530.8,670.0 L1531.2,671.9 L1531.6,673.9 L1532.0,675.9 L1532.4,677.8 L1532.9,679.8 L1533.3,681.7 L1533.7,683.7 L1534.2,685.6 L1534.6,687.5 L1535.0,689.5 L1535.5,691.4 L1535.9,693.4 L1536.4,695.3 L1536.8,697.2 L1537.3,699.1 L1537.7,701.1 L1538.2,703.0 L1538.6,704.9 L1539.1,706.8 L1539.5,708.7 L1540.0,710.6 L1540.5,712.5 L1540.9,714.4 L1541.4,716.3 L1541.9,718.2 L1542.4,720.1 L1542.9,722.0 L1543.5,723.9 L1544.0,725.8 L1544.6,727.7 L1545.2,729.6 L1545.9,731.5 L1546.5,733.4 L1547.3,735.3 L1548.0,737.2 L1548.8,739.2 L1549.6,741.1 L1550.5,743.0 L1551.4,744.9 L1552.4,746.9 L1553.4,748.8 L1554.5,750.7 L1555.6,752.6 L1556.8,754.4 L1558.0,756.1 L1559.3,757.7 L1560.7,759.1 L1562.1,760.3 L1563.6,761.3 L1565.1,762.0 L1566.7,762.5 L1568.3,762.6 L1570.0,762.3 L1571.7,761.8 L1573.5,761.0 L1575.2,760.0 L1576.9,758.8 L1578.5,757.4 L1580.0,756.0 L1581.4,754.6 L1582.7,753.0 L1583.9,751.4 L1585.0,749.8 L1586.1,748.1 L1587.1,746.4 L1588.1,744.6 L1589.0,742.8 L1589.9,741.0 L1590.7,739.2 L1591.5,737.3 L1592.3,735.4 L1593.1,733.6 L1593.9,731.7 L1594.6,729.8 L1595.4,727.9 L1596.2,726.0 L1597.0,724.2 L1597.8,722.3 L1598.7,720.4 L1599.5,718.6 L1600.4,716.7 L1601.3,714.9 L1602.2,713.1 L1603.1,711.3 L1604.0,709.5 L1605.0,707.8 L1606.0,706.0 L1607.0,704.3 L1608.1,702.6 L1609.2,701.0 L1610.4,699.3 L1611.5,697.7 L1612.7,696.1 L1614.0,694.6 L1615.3,693.0 L1616.7,691.5 L1618.1,690.1 L1619.5,688.7 L1621.0,687.3 L1622.5,686.1 L1624.1,685.1 L1625.8,684.3 L1627.5,684.0 L1629.3,684.0 L1631.1,684.4 L1632.9,685.1 L1634.8,686.0 L1636.7,686.9 L1638.6,687.7 L1640.5,688.5 L1642.3,689.0 L1644.2,689.4 L1646.0,689.6 L1647.8,689.7 L1649.5,689.5 L1651.1,689.2 L1652.7,688.7 L1654.1,687.9 L1655.5,687.0 L1656.7,685.9 L1657.8,684.6 L1658.8,683.1 L1659.6,681.4 L1660.4,679.5 L1661.1,677.6 L1661.7,675.5 L1662.2,673.4 L1662.7,671.2 L1663.1,669.0 L1663.6,666.9 L1664.0,664.7 L1664.4,662.5 L1664.8,660.4 L1665.2,658.3 L1665.6,656.2 L1665.9,654.2 L1666.3,652.1 L1666.6,650.1 L1667.0,648.0 L1667.3,646.0 L1667.7,644.0 L1668.0,642.0 L1668.3,640.0 L1668.6,638.0 L1668.9,636.1 L1669.2,634.1 L1669.5,632.1 L1669.8,630.2 L1670.1,628.2 L1670.4,626.3 L1670.7,624.3 L1671.0,622.4 L1671.2,620.4 L1671.5,618.4 L1671.8,616.5 L1672.1,614.5 L1672.3,612.5 L1672.6,610.6 L1672.9,608.6 L1673.1,606.7 L1673.4,604.7 L1673.7,602.7 L1673.9,600.8 L1674.2,598.8 L1674.4,596.8 L1674.7,594.9 L1674.9,592.9 L1675.2,590.9 L1675.4,588.9 L1675.6,587.0 L1675.9,585.0 L1676.1,583.0 L1676.3,581.1 L1676.6,579.1 L1676.8,577.1 L1677.0,575.1 L1677.3,573.2 L1677.5,571.2 L1677.7,569.2 L1677.9,567.2 L1678.1,565.2 L1678.4,563.3 L1678.6,561.3 L1678.8,559.3 L1679.0,557.3 L1679.2,555.3 L1679.4,553.4 L1679.6,551.4 L1679.8,549.4 L1680.0,547.4 L1680.2,545.4 L1680.4,543.4 L1680.6,541.5 L1680.8,539.5 L1681.0,537.5 L1681.2,535.5 L1681.4,533.5 L1681.6,531.5 L1681.8,529.5 L1682.0,527.5 L1682.1,525.6 L1682.3,523.6 L1682.5,521.6 L1682.7,519.6 L1682.9,517.6 L1683.0,515.6 L1683.2,513.6 L1683.4,511.6 L1683.6,509.6 L1683.7,507.6 L1683.9,505.7 L1684.1,503.7 L1684.3,501.7 L1684.4,499.7 L1684.6,497.7 L1684.8,495.7 L1684.9,493.7 L1685.1,491.7 L1685.2,489.7 L1685.4,487.7 L1685.6,485.7 L1685.7,483.7 L1685.9,481.7 L1686.1,479.7 L1686.2,477.7 L1686.4,475.7 L1686.5,473.7 L1686.7,471.7 L1686.8,469.7 L1687.0,467.7 L1687.1,465.8 L1687.3,463.8 L1687.4,461.8 L1687.6,459.8 L1687.7,457.8 L1687.9,455.8 L1688.0,453.8 L1688.2,451.8 L1688.3,449.8 L1688.5,447.8 L1688.6,445.8 L1688.8,443.8 L1688.9,441.8 L1689.1,439.8 L1689.2,437.8 L1689.4,435.8 L1689.5,433.8 L1689.7,431.8 L1689.8,429.8 L1689.9,427.8 L1690.1,425.8 L1690.2,423.8 L1690.4,421.8 L1690.5,419.8 L1690.7,417.8 L1690.8,415.8 L1691.0,413.8 L1691.1,411.8 L1691.2,409.8 L1691.4,407.8 L1691.5,405.8 L1691.7,403.8 L1691.8,401.8 L1692.0,399.8 L1692.1,397.8 L1692.2,395.8 L1692.4,393.8 L1692.5,391.8 L1692.7,389.8 L1692.8,387.8 L1693.0,385.8 L1693.1,383.8 L1693.2,381.8 L1693.4,379.8 L1693.5,377.8 L1693.7,375.8 L1693.8,373.8 L1694.0,371.8 L1694.1,369.8 L1694.3,367.8 L1694.4,365.8 L1694.5,363.8 L1694.7,361.8 L1694.8,359.8 L1695.0,357.8 L1695.1,355.8 L1695.3,353.9 L1695.4,351.9 L1695.6,349.9 L1695.7,347.9 L1695.9,345.9 L1696.0,343.9 L1696.2,341.9 L1696.3,339.9 L1696.5,337.9 L1696.6,335.9 L1696.7,333.9 L1696.9,331.9 L1697.0,329.9 L1697.2,327.9 L1697.3,325.9 L1697.5,323.9 L1697.6,321.9 L1697.8,319.9 L1697.9,317.9 L1698.1,315.9 L1698.3,314.0 L1698.4,312.0 L1698.6,310.0 L1698.7,308.0 L1698.9,306.0 L1699.0,304.0 L1699.2,302.0 L1699.3,300.0 L1699.5,298.0 L1699.6,296.0 L1699.8,294.0 L1700.0,292.0 L1700.1,290.0 L1700.3,288.0 L1700.4,286.1 L1700.6,284.1 L1700.7,282.1 L1700.9,280.1 L1701.1,278.1 L1701.2,276.1 L1701.4,274.1 L1701.5,272.1 L1701.7,270.1 L1701.9,268.1 L1702.0,266.1 L1702.2,264.2 L1702.4,262.2 L1702.5,260.2 L1702.7,258.2 L1702.9,256.2 L1703.0,254.2 L1703.2,252.2 L1703.4,250.2 L1703.5,248.2 L1703.7,246.3 L1703.9,244.3 L1704.0,242.3 L1704.2,240.3 L1704.4,238.3 L1704.5,236.3 L1704.7,234.3 L1704.9,232.3 L1705.1,230.3 L1705.2,228.4 L1705.4,226.4 L1705.6,224.4 L1705.8,222.4 L1705.9,220.4 L1706.1,218.4 L1706.3,216.4 L1706.5,214.5 L1706.7,212.5 L1706.8,210.5 L1707.0,208.5 L1707.2,206.5 L1707.4,204.5 L1707.6,202.6 L1707.7,200.6 L1707.9,198.6 L1708.1,196.6 L1708.3,194.6 L1708.5,192.6 L1708.7,190.7 L1708.9,188.7 L1709.1,186.7 L1709.2,184.7 L1709.4,182.7 L1709.6,180.7 L1709.8,178.8 L1710.0,176.8 L1710.2,174.8 L1710.4,172.8 L1710.6,170.8 L1710.8,168.9 L1711.0,166.9 L1711.2,164.9 L1711.4,162.9 L1711.6,160.9 L1711.8,159.0 L1712.0,157.0 L1712.2,155.0 L1712.4,153.0 L1712.6,151.0 L1712.8,149.1 L1713.0,147.1 L1713.2,145.1 L1713.5,143.1 L1713.7,141.1 L1713.9,139.2 L1714.1,137.2 L1714.4,135.2 L1714.6,133.2 L1714.9,131.2 L1715.2,129.2 L1715.5,127.1 L1715.8,125.1 L1716.1,123.1 L1716.5,121.0 L1716.8,118.9 L1717.3,116.8 L1717.7,114.7 L1718.1,112.6 L1718.6,110.5 L1719.1,108.4 L1719.7,106.2 L1720.3,104.0 L1720.9,101.8 L1721.5,99.6 L1722.2,97.4 L1723.0,95.4 L1723.8,93.6 L1724.6,92.2 L1725.5,91.2 L1726.4,90.9 L1727.5,91.2 L1728.5,92.0 L1729.5,93.4 L1730.6,95.0 L1731.6,97.0 L1732.5,99.0 L1733.3,101.2 L1734.0,103.3 L1734.7,105.5 L1735.3,107.7 L1735.8,109.9 L1736.3,112.1 L1736.8,114.3 L1737.3,116.4 L1737.7,118.6 L1738.1,120.6 L1738.5,122.7 L1738.9,124.7 L1739.3,126.7 L1739.6,128.7 L1740.0,130.7 L1740.3,132.6 L1740.7,134.5 L1741.0,136.5 L1741.3,138.4 L1741.6,140.2 L1741.9,142.1 L1742.2,144.0 L1742.5,145.9 L1742.8,147.8 L1743.1,149.7 L1743.4,151.5 L1743.7,153.4 L1743.9,155.3 L1744.2,157.3 L1744.5,159.2 L1744.8,161.1 L1745.1,163.1 L1745.3,165.1 L1745.6,167.1 L1745.9,169.1 L1746.1,171.1 L1746.4,173.1 L1746.7,175.1 L1747.0,177.1 L1747.2,179.1 L1747.5,181.2 L1747.8,183.2 L1748.1,185.3 L1748.4,187.3 L1748.6,189.4 L1748.9,191.4 L1749.2,193.5 L1749.5,195.5 L1749.8,197.5 L1750.1,199.6 L1750.4,201.6 L1750.7,203.6 L1751.0,205.7 L1751.3,207.7 L1751.6,209.7 L1751.9,211.7 L1752.2,213.7 L1752.5,215.6 L1752.8,217.6 L1753.1,219.6 L1753.5,221.5 L1753.8,223.5 L1754.1,225.5 L1754.4,227.4 L1754.8,229.3 L1755.1,231.3 L1755.4,233.2 L1755.8,235.1 L1756.1,237.1 L1756.4,239.0 L1756.8,240.9 L1757.1,242.8 L1757.4,244.8 L1757.8,246.7 L1758.1,248.6 L1758.4,250.5 L1758.8,252.4 L1759.1,254.3 L1759.5,256.2 L1759.8,258.2 L1760.1,260.1 L1760.5,262.0 L1760.8,263.9 L1761.1,265.8 L1761.5,267.8 L1761.8,269.7 L1762.1,271.6 L1762.4,273.6 L1762.8,275.5 L1763.1,277.4 L1763.4,279.4 L1763.7,281.3 L1764.1,283.3 L1764.4,285.3 L1764.7,287.2 L1765.0,289.2 L1765.3,291.2 L1765.6,293.2 L1765.9,295.2 L1766.2,297.2 L1766.5,299.2 L1766.8,301.2 L1767.1,303.3 L1767.4,305.3 L1767.6,307.4 L1767.9,309.4 L1768.2,311.5 L1768.5,313.6 L1768.7,315.7 L1769.0,317.8 L1769.3,319.9 L1769.5,322.0 L1769.8,324.1 L1770.1,326.2 L1770.4,328.3 L1770.7,330.3 L1771.1,332.4 L1771.4,334.5 L1771.8,336.5 L1772.2,338.6 L1772.7,340.6 L1773.1,342.6 L1773.6,344.5 L1774.1,346.5 L1774.7,348.4 L1775.3,350.3 L1775.9,352.2 L1776.6,354.0 L1777.4,355.8 L1778.1,357.5 L1779.0,359.2 L1779.8,360.9 L1780.8,362.5 L1781.8,364.1 L1782.8,365.7 L1783.9,367.1 L1785.1,368.6 L1786.3,369.9 L1787.6,371.2 L1789.0,372.5 L1790.5,373.7 L1792.0,374.8 L1793.6,375.9 L1795.3,376.9 L1797.0,377.8 L1798.9,378.7 L1800.7,379.5 L1802.6,380.3 L1804.5,381.1 L1806.5,381.9 L1808.4,382.7 L1810.3,383.5 L1812.2,384.4 L1814.0,385.2 L1815.8,386.2 L1817.5,387.2 L1819.1,388.2 L1820.6,389.4 L1822.1,390.6 L1823.4,391.9 L1824.7,393.3 L1825.9,394.8 L1827.0,396.3 L1828.1,397.8 L1829.1,399.5 L1830.1,401.1 L1831.0,402.8 L1831.9,404.6 L1832.7,406.4 L1833.5,408.3 L1834.2,410.1 L1835.0,412.0 L1835.7,413.9 L1836.3,415.9 L1837.0,417.8 L1837.6,419.8 L1838.2,421.8 L1838.9,423.8 L1839.4,425.8 L1840.0,427.7 L1840.6,429.7 L1841.2,431.7 L1841.8,433.6 L1842.4,435.5 L1843.0,437.4 L1843.6,439.3 L1844.3,441.1 L1844.9,442.9 L1845.6,444.7" fill="none" stroke="#2c2c62" stroke-width="2.3" stroke-dasharray="19 7" stroke-dashoffset="0" stroke-linejoin="round"/>
<!-- optimized curve (solid) -->
<path d="M308.0,445.6 L310.0,446.1 L312.0,446.8 L314.0,448.0 L316.0,449.4 L318.0,451.2 L320.0,453.1 L322.0,455.3 L324.0,457.5 L326.0,460.0 L328.0,462.6 L330.0,465.5 L332.0,468.6 L334.0,471.9 L336.0,475.4 L338.0,479.0 L340.0,482.7 L342.0,486.4 L344.0,490.2 L346.0,494.0 L348.0,497.8 L350.0,501.4 L352.0,504.9 L354.0,508.3 L356.0,511.5 L358.0,514.4 L360.0,517.1 L362.0,519.5 L364.0,521.6 L366.0,523.5 L368.0,525.2 L370.0,526.7 L372.0,527.9 L374.0,528.9 L376.0,529.8 L378.0,530.5 L380.0,531.0 L382.0,531.4 L384.0,531.6 L386.0,531.7 L388.0,531.6 L390.0,531.4 L392.0,531.1 L394.0,530.6 L396.0,530.1 L398.0,529.4 L400.0,528.6 L402.0,527.7 L404.0,526.6 L406.0,525.5 L408.0,524.3 L410.0,523.0 L412.0,521.6 L414.0,520.1 L416.0,518.5 L418.0,516.9 L420.0,515.2 L422.0,513.4 L424.0,511.5 L426.0,509.6 L428.0,507.7 L430.0,505.7 L432.0,503.8 L434.0,501.9 L436.0,500.0 L438.0,498.2 L440.0,496.5 L442.0,494.9 L444.0,493.4 L446.0,492.1 L448.0,490.9 L450.0,489.9 L452.0,489.0 L454.0,488.2 L456.0,487.4 L458.0,486.8 L460.0,486.3 L462.0,485.8 L464.0,485.3 L466.0,484.9 L468.0,484.5 L470.0,484.1 L472.0,483.6 L474.0,483.1 L476.0,482.5 L478.0,481.8 L480.0,480.9 L482.0,479.8 L484.0,478.5 L486.0,476.9 L488.0,475.1 L490.0,473.1 L492.0,470.8 L494.0,468.2 L496.0,465.4 L498.0,462.4 L500.0,459.2 L502.0,455.7 L504.0,452.0 L506.0,448.1 L508.0,444.0 L510.0,439.7 L512.0,435.3 L514.0,430.8 L516.0,426.2 L518.0,421.7 L520.0,417.2 L522.0,412.8 L524.0,408.5 L526.0,404.4 L528.0,400.5 L530.0,396.8 L532.0,393.5 L534.0,390.5 L536.0,387.8 L538.0,385.6 L540.0,383.8 L542.0,382.5 L544.0,381.6 L546.0,381.1 L548.0,381.0 L550.0,381.3 L552.0,381.9 L554.0,382.9 L556.0,384.1 L558.0,385.7 L560.0,387.5 L562.0,389.6 L564.0,391.9 L566.0,394.5 L568.0,397.2 L570.0,400.2 L572.0,403.3 L574.0,406.5 L576.0,409.9 L578.0,413.4 L580.0,417.0 L582.0,420.6 L584.0,424.3 L586.0,428.1 L588.0,431.8 L590.0,435.5 L592.0,439.2 L594.0,442.8 L596.0,446.4 L598.0,449.8 L600.0,453.2 L602.0,456.4 L604.0,459.4 L606.0,462.2 L608.0,464.9 L610.0,467.3 L612.0,469.4 L614.0,471.3 L616.0,473.0 L618.0,474.3 L620.0,475.2 L622.0,475.9 L624.0,476.2 L626.0,476.2 L628.0,475.9 L630.0,475.4 L632.0,474.6 L634.0,473.7 L636.0,472.5 L638.0,471.1 L640.0,469.6 L642.0,467.9 L644.0,466.1 L646.0,464.2 L648.0,462.2 L650.0,460.2 L652.0,458.1 L654.0,456.0 L656.0,454.0 L658.0,452.0 L660.0,450.2 L662.0,448.6 L664.0,447.3 L666.0,446.2 L668.0,445.5 L670.0,445.1 L672.0,445.6 L674.0,446.1 L676.0,446.8 L678.0,448.0 L680.0,449.4 L682.0,451.2 L684.0,453.1 L686.0,455.3 L688.0,457.5 L690.0,460.0 L692.0,462.6 L694.0,465.5 L696.0,468.6 L698.0,471.9 L700.0,475.4 L702.0,479.0 L704.0,482.7 L706.0,486.4 L708.0,490.2 L710.0,494.0 L712.0,497.8 L714.0,501.4 L716.0,504.9 L718.0,508.3 L720.0,511.5 L722.0,514.4 L724.0,517.1 L726.0,519.5 L728.0,521.6 L730.0,523.5 L732.0,525.2 L734.0,526.7 L736.0,527.9 L738.0,528.9 L740.0,529.8 L742.0,530.5 L744.0,531.0 L746.0,531.4 L748.0,531.6 L750.0,531.7 L752.0,531.6 L754.0,531.4 L756.0,531.1 L758.0,530.6 L760.0,530.1 L762.0,529.4 L764.0,528.6 L766.0,527.7 L768.0,526.6 L770.0,525.5 L772.0,524.3 L774.0,523.0 L776.0,521.6 L778.0,520.1 L780.0,518.5 L782.0,516.9 L784.0,515.2 L786.0,513.4 L788.0,511.5 L790.0,509.6 L792.0,507.7 L794.0,505.7 L796.0,503.8 L798.0,501.9 L800.0,500.0 L802.0,498.2 L804.0,496.5 L806.0,494.9 L808.0,493.4 L810.0,492.1 L812.0,490.9 L814.0,489.9 L816.0,489.0 L818.0,488.2 L820.0,487.4 L822.0,486.8 L824.0,486.3 L826.0,485.8 L828.0,485.3 L830.0,484.9 L832.0,484.5 L834.0,484.1 L836.0,483.6 L838.0,483.1 L840.0,482.5 L842.0,481.8 L844.0,480.9 L846.0,479.8 L848.0,478.5 L850.0,476.9 L852.0,475.1 L854.0,473.1 L856.0,470.8 L858.0,468.2 L860.0,465.4 L862.0,462.4 L864.0,459.2 L866.0,455.7 L868.0,452.0 L870.0,448.1 L872.0,444.0 L874.0,439.7 L876.0,435.3 L878.0,430.8 L880.0,426.2 L882.0,421.7 L884.0,417.2 L886.0,412.8 L888.0,408.5 L890.0,404.4 L892.0,400.5 L894.0,396.8 L896.0,393.5 L898.0,390.5 L900.0,387.8 L902.0,385.6 L904.0,383.8 L906.0,382.5 L908.0,381.6 L910.0,381.1 L912.0,381.0 L914.0,381.3 L916.0,381.9 L918.0,382.9 L920.0,384.1 L922.0,385.7 L924.0,387.5 L926.0,389.6 L928.0,391.9 L930.0,394.5 L932.0,397.2 L934.0,400.2 L936.0,403.3 L938.0,406.5 L940.0,409.9 L942.0,413.4 L944.0,417.0 L946.0,420.6 L948.0,424.3 L950.0,428.1 L952.0,431.8 L954.0,435.5 L956.0,439.2 L958.0,442.8 L960.0,446.4 L962.0,449.8 L964.0,453.2 L966.0,456.4 L968.0,459.4 L970.0,462.2 L972.0,464.9 L974.0,467.3 L976.0,469.4 L978.0,471.3 L980.0,473.0 L982.0,474.3 L984.0,475.2 L986.0,475.9 L988.0,476.2 L990.0,476.2 L992.0,475.9 L994.0,475.4 L996.0,474.6 L998.0,473.7 L1000.0,472.5 L1002.0,471.1 L1004.0,469.6 L1006.0,467.9 L1008.0,466.1 L1010.0,464.2 L1012.0,462.2 L1014.0,460.2 L1016.0,458.1 L1018.0,456.0 L1020.0,454.0 L1022.0,452.0 L1024.0,450.2 L1026.0,448.6 L1028.0,447.3 L1030.0,446.2 L1032.0,445.5 L1034.0,445.1 L1036.0,445.6 L1038.0,446.1 L1040.0,446.8 L1042.0,448.0 L1044.0,449.4 L1046.0,451.2 L1048.0,453.1 L1050.0,455.3 L1052.0,457.5 L1054.0,460.0 L1056.0,462.6 L1058.0,465.5 L1060.0,468.6 L1062.0,471.9 L1064.0,475.4 L1066.0,479.0 L1068.0,482.7 L1070.0,486.4 L1072.0,490.2 L1074.0,494.0 L1076.0,497.8 L1078.0,501.4 L1080.0,504.9 L1082.0,508.3 L1084.0,511.5 L1086.0,514.4 L1088.0,517.1 L1090.0,519.5 L1092.0,521.6 L1094.0,523.5 L1096.0,525.2 L1098.0,526.7 L1100.0,527.9 L1102.0,528.9 L1104.0,529.8 L1106.0,530.5 L1108.0,531.0 L1110.0,531.4 L1112.0,531.6 L1114.0,531.7 L1116.0,531.6 L1118.0,531.4 L1120.0,531.1 L1122.0,530.6 L1124.0,530.1 L1126.0,529.4 L1128.0,528.6 L1130.0,527.7 L1132.0,526.6 L1134.0,525.5 L1136.0,524.3 L1138.0,523.0 L1140.0,521.6 L1142.0,520.1 L1144.0,518.5 L1146.0,516.9 L1148.0,515.2 L1150.0,513.4 L1152.0,511.5 L1154.0,509.6 L1156.0,507.7 L1158.0,505.7 L1160.0,503.8 L1162.0,501.9 L1164.0,500.0 L1166.0,498.2 L1168.0,496.5 L1170.0,494.9 L1172.0,493.4 L1174.0,492.1 L1176.0,490.9 L1178.0,489.9 L1180.0,489.0 L1182.0,488.2 L1184.0,487.4 L1186.0,486.8 L1188.0,486.3 L1190.0,485.8 L1192.0,485.3 L1194.0,484.9 L1196.0,484.5 L1198.0,484.1 L1200.0,483.6 L1202.0,483.1 L1204.0,482.5 L1206.0,481.8 L1208.0,480.9 L1210.0,479.8 L1212.0,478.5 L1214.0,476.9 L1216.0,475.1 L1218.0,473.1 L1220.0,470.8 L1222.0,468.2 L1224.0,465.4 L1226.0,462.4 L1228.0,459.2 L1230.0,455.7 L1232.0,452.0 L1234.0,448.1 L1236.0,444.0 L1238.0,439.7 L1240.0,435.3 L1242.0,430.8 L1244.0,426.2 L1246.0,421.7 L1248.0,417.2 L1250.0,412.8 L1252.0,408.5 L1254.0,404.4 L1256.0,400.5 L1258.0,396.8 L1260.0,393.5 L1262.0,390.5 L1264.0,387.8 L1266.0,385.6 L1268.0,383.8 L1270.0,382.5 L1272.0,381.6 L1274.0,381.1 L1276.0,381.0 L1278.0,381.3 L1280.0,381.9 L1282.0,382.9 L1284.0,384.1 L1286.0,385.7 L1288.0,387.5 L1290.0,389.6 L1292.0,391.9 L1294.0,394.5 L1296.0,397.2 L1298.0,400.2 L1300.0,403.3 L1302.0,406.5 L1304.0,409.9 L1306.0,413.4 L1308.0,417.0 L1310.0,420.6 L1312.0,424.3 L1314.0,428.1 L1316.0,431.8 L1318.0,435.5 L1320.0,439.2 L1322.0,442.8 L1324.0,446.4 L1326.0,449.8 L1328.0,453.2 L1330.0,456.4 L1332.0,459.4 L1334.0,462.2 L1336.0,464.9 L1338.0,467.3 L1340.0,469.4 L1342.0,471.3 L1344.0,473.0 L1346.0,474.3 L1348.0,475.2 L1350.0,475.9 L1352.0,476.2 L1354.0,476.2 L1356.0,475.9 L1358.0,475.4 L1360.0,474.6 L1362.0,473.7 L1364.0,472.5 L1366.0,471.1 L1368.0,469.6 L1370.0,467.9 L1372.0,466.1 L1374.0,464.2 L1376.0,462.2 L1378.0,460.2 L1380.0,458.1 L1382.0,456.0 L1384.0,454.0 L1386.0,452.0 L1388.0,450.2 L1390.0,448.6 L1392.0,447.3 L1394.0,446.2 L1396.0,445.5 L1398.0,445.1 L1400.0,445.6 L1402.0,446.1 L1404.0,446.8 L1406.0,448.0 L1408.0,449.4 L1410.0,451.2 L1412.0,453.1 L1414.0,455.3 L1416.0,457.5 L1418.0,460.0 L1420.0,462.6 L1422.0,465.5 L1424.0,468.6 L1426.0,471.9 L1428.0,475.4 L1430.0,479.0 L1432.0,482.7 L1434.0,486.4 L1436.0,490.2 L1438.0,494.0 L1440.0,497.8 L1442.0,501.4 L1444.0,504.9 L1446.0,508.3 L1448.0,511.5 L1450.0,514.4 L1452.0,517.1 L1454.0,519.5 L1456.0,521.6 L1458.0,523.5 L1460.0,525.2 L1462.0,526.7 L1464.0,527.9 L1466.0,528.9 L1468.0,529.8 L1470.0,530.5 L1472.0,531.0 L1474.0,531.4 L1476.0,531.6 L1478.0,531.7 L1480.0,531.6 L1482.0,531.4 L1484.0,531.1 L1486.0,530.6 L1488.0,530.1 L1490.0,529.4 L1492.0,528.6 L1494.0,527.7 L1496.0,526.6 L1498.0,525.5 L1500.0,524.3 L1502.0,523.0 L1504.0,521.6 L1506.0,520.1 L1508.0,518.5 L1510.0,516.9 L1512.0,515.2 L1514.0,513.4 L1516.0,511.5 L1518.0,509.6 L1520.0,507.7 L1522.0,505.7 L1524.0,503.8 L1526.0,501.9 L1528.0,500.0 L1530.0,498.2 L1532.0,496.5 L1534.0,494.9 L1536.0,493.4 L1538.0,492.1 L1540.0,490.9 L1542.0,489.9 L1544.0,489.0 L1546.0,488.2 L1548.0,487.4 L1550.0,486.8 L1552.0,486.3 L1554.0,485.8 L1556.0,485.3 L1558.0,484.9 L1560.0,484.5 L1562.0,484.1 L1564.0,483.6 L1566.0,483.1 L1568.0,482.5 L1570.0,481.8 L1572.0,480.9 L1574.0,479.8 L1576.0,478.5 L1578.0,476.9 L1580.0,475.1 L1582.0,473.1 L1584.0,470.8 L1586.0,468.2 L1588.0,465.4 L1590.0,462.4 L1592.0,459.2 L1594.0,455.7 L1596.0,452.0 L1598.0,448.1 L1600.0,444.0 L1602.0,439.7 L1604.0,435.3 L1606.0,430.8 L1608.0,426.2 L1610.0,421.7 L1612.0,417.2 L1614.0,412.8 L1616.0,408.5 L1618.0,404.4 L1620.0,400.5 L1622.0,396.8 L1624.0,393.5 L1626.0,390.5 L1628.0,387.8 L1630.0,385.6 L1632.0,383.8 L1634.0,382.5 L1636.0,381.6 L1638.0,381.1 L1640.0,381.0 L1642.0,381.3 L1644.0,381.9 L1646.0,382.9 L1648.0,384.1 L1650.0,385.7 L1652.0,387.5 L1654.0,389.6 L1656.0,391.9 L1658.0,394.5 L1660.0,397.2 L1662.0,400.2 L1664.0,403.3 L1666.0,406.5 L1668.0,409.9 L1670.0,413.4 L1672.0,417.0 L1674.0,420.6 L1676.0,424.3 L1678.0,428.1 L1680.0,431.8 L1682.0,435.5 L1684.0,439.2 L1686.0,442.8 L1688.0,446.4 L1690.0,449.8 L1692.0,453.2 L1694.0,456.4 L1696.0,459.4 L1698.0,462.2 L1700.0,464.9 L1702.0,467.3 L1704.0,469.4 L1706.0,471.3 L1708.0,473.0 L1710.0,474.3 L1712.0,475.2 L1714.0,475.9 L1716.0,476.2 L1718.0,476.2 L1720.0,475.9 L1722.0,475.4 L1724.0,474.6 L1726.0,473.7 L1728.0,472.5 L1730.0,471.1 L1732.0,469.6 L1734.0,467.9 L1736.0,466.1 L1738.0,464.2 L1740.0,462.2 L1742.0,460.2 L1744.0,458.1 L1746.0,456.0 L1748.0,454.0 L1750.0,452.0 L1752.0,450.2 L1754.0,448.6 L1756.0,447.3 L1758.0,446.2 L1760.0,445.5 L1762.0,445.1 L1764.0,445.6 L1766.0,446.1 L1768.0,446.8 L1770.0,448.0 L1772.0,449.4 L1774.0,451.2 L1776.0,453.1 L1778.0,455.3 L1780.0,457.5 L1782.0,460.0 L1784.0,462.6 L1786.0,465.5 L1788.0,468.6 L1790.0,471.9 L1792.0,475.4 L1794.0,479.0 L1796.0,482.7 L1798.0,486.4 L1800.0,490.2 L1802.0,494.0 L1804.0,497.8 L1806.0,501.4 L1808.0,504.9 L1810.0,508.3 L1812.0,511.5 L1814.0,514.4 L1816.0,517.1 L1818.0,519.5 L1820.0,521.6 L1822.0,523.5 L1824.0,525.2 L1826.0,526.7 L1828.0,527.9 L1830.0,528.9 L1832.0,529.8 L1834.0,530.5 L1836.0,531.0 L1838.0,531.4 L1840.0,531.6 L1842.0,531.7 L1844.0,531.6 L1846.0,531.4" fill="none" stroke="#e00a20" stroke-width="10" stroke-linejoin="round" stroke-linecap="butt"/>
<!-- frame -->
<rect x="308.7" y="43" width="1537.3" height="788.4" fill="none" stroke="#000" stroke-width="6.2"/>
<!-- ticks -->
<g stroke="#000" stroke-width="5.0">
<line x1="308.7" x2="328.5" y1="171.8" y2="171.8"/>
<line x1="308.7" x2="328.5" y1="304" y2="304"/>
<line x1="308.7" x2="328.5" y1="437.2" y2="437.2"/>
<line x1="308.7" x2="328.5" y1="566.3" y2="566.3"/>
<line x1="308.7" x2="328.5" y1="698" y2="698"/>
<line x1="1077.5" x2="1077.5" y1="831.4" y2="810"/>
</g>
<!-- y tick labels -->
<g>
<text transform="translate(285.5 70) scale(0.972 1.0)" text-anchor="end" font-size="82.5">0.06</text>
<text transform="translate(285.5 198.5) scale(0.972 1.0)" text-anchor="end" font-size="82.5">0.04</text>
<text transform="translate(285.5 330.1) scale(0.972 1.0)" text-anchor="end" font-size="82.5">0.02</text>
<text transform="translate(287 463.2) scale(0.972 1.0)" text-anchor="end" font-size="82.5">0</text>
<text transform="translate(285.5 599.2) scale(0.972 1.0)" text-anchor="end" font-size="82.5">0.02</text>
<text transform="translate(285.5 731.8) scale(0.972 1.0)" text-anchor="end" font-size="82.5">0.04</text>
<text transform="translate(285.5 864.1) scale(0.972 1.0)" text-anchor="end" font-size="82.5">0.06</text>
<text transform="translate(96.0 592.3) scale(1.17 1.0)" text-anchor="start" font-size="80" style="stroke:#000;stroke-width:1.6px">−</text>
<text transform="translate(96.0 724.0) scale(1.17 1.0)" text-anchor="start" font-size="80" style="stroke:#000;stroke-width:1.6px">−</text>
<text transform="translate(96.0 857.2) scale(1.17 1.0)" text-anchor="start" font-size="80" style="stroke:#000;stroke-width:1.6px">−</text>
</g>
<!-- x tick labels -->
<g>
<text transform="translate(307.3 917.6) scale(0.978 1.0)" text-anchor="middle" font-size="81.5">1870</text>
<text transform="translate(1076.8 917.6) scale(0.978 1.0)" text-anchor="middle" font-size="81.5">1880</text>
<text transform="translate(1844.0 917.6) scale(0.978 1.0)" text-anchor="middle" font-size="81.5">1890</text>
</g>
<!-- axis titles -->
<text transform="translate(1079.6 1000.5) scale(1.013 1.0)" text-anchor="middle" font-size="80">Dimensionless-Time</text>
<text transform="translate(81 514.5) rotate(-90) scale(1.009 1.0)" text-anchor="middle" font-size="80">Dimensionless-Acceleration</text>
<!-- legend -->
<line x1="378.8" x2="516" y1="118.1" y2="118.1" stroke="#b81c19" stroke-width="7.8"/>
<text transform="translate(550 141) scale(1.006 1.0)" text-anchor="start" font-size="80">Optimized</text>
<line x1="915.6" x2="1038.1" y1="117.7" y2="117.7" stroke="#8c86a8" stroke-width="3.0" stroke-dasharray="16.5 9.9"/>
<text transform="translate(1068 141) scale(1.006 1.0)" text-anchor="start" font-size="80">Preset</text>
</svg>
</body>
</html>
